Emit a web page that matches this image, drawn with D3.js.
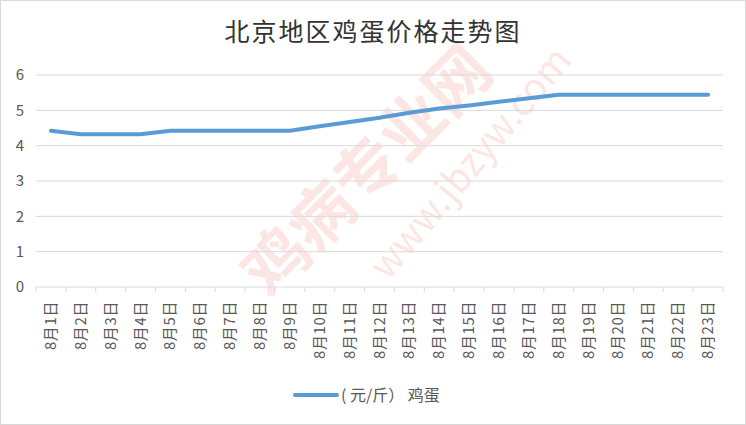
<!DOCTYPE html>
<html lang="zh">
<head>
<meta charset="UTF-8">
<title>北京地区鸡蛋价格走势图</title>
<script src="https://cdn.jsdelivr.net/npm/d3@7"></script>
<style>
  body { margin: 0; background: #fff; }
  svg { display: block; font-family: "Noto Sans CJK SC", "Noto Sans", sans-serif; }
</style>
</head>
<body>
<svg id="chart" width="746" height="425"></svg>
<script>
// data
const days = ["8月1日", "8月2日", "8月3日", "8月4日", "8月5日", "8月6日", "8月7日", "8月8日",
  "8月9日", "8月10日", "8月11日", "8月12日", "8月13日", "8月14日", "8月15日", "8月16日",
  "8月17日", "8月18日", "8月19日", "8月20日", "8月21日", "8月22日", "8月23日"];
const eggPrice = [4.42, 4.32, 4.32, 4.32, 4.42, 4.42, 4.42, 4.42, 4.42, 4.55, 4.67, 4.79,
  4.93, 5.05, 5.14, 5.24, 5.34, 5.44, 5.44, 5.44, 5.44, 5.44, 5.44];
const yTicks = [0, 1, 2, 3, 4, 5, 6];
const seriesName = "( 元/斤） 鸡蛋";
const title = "北京地区鸡蛋价格走势图";

const W = 746, H = 425;
const m = { left: 36, right: 23, top: 75, bottom: 138 };
const svg = d3.select("#chart");

// outer frame
svg.append("rect").attr("x", 0.5).attr("y", 0.5).attr("width", W - 1).attr("height", H - 1)
  .attr("fill", "#fff").attr("stroke", "#d9d9d9");

// faint watermark
const wm = svg.append("g").attr("pointer-events", "none");
wm.append("text").attr("transform", "translate(270,300) rotate(-45)")
  .attr("font-size", 64).attr("font-weight", "bold").attr("fill", "#f06a60").attr("opacity", 0.16)
  .text("鸡病专业网");
wm.append("text").attr("transform", "translate(388,282) rotate(-50)")
  .attr("font-size", 38).attr("fill", "#f06a60").attr("opacity", 0.16)
  .text("www.jbzyw.com");

const x = d3.scaleBand().domain(days).range([m.left, W - m.right]);
const y = d3.scaleLinear().domain([0, 6]).range([H - m.bottom, m.top]);

// gridlines
svg.append("g").selectAll("line").data(yTicks.filter(d => d > 0)).join("line")
  .attr("x1", m.left).attr("x2", W - m.right)
  .attr("y1", d => y(d)).attr("y2", d => y(d))
  .attr("stroke", "#d9d9d9").attr("stroke-width", 1);

// y axis labels
svg.append("g").selectAll("text").data(yTicks).join("text")
  .attr("x", 20).attr("y", d => y(d)).attr("dy", "0.36em")
  .attr("text-anchor", "middle").attr("font-size", 15).attr("fill", "#595959")
  .text(d => d);

// x axis
const xAxis = svg.append("g").attr("transform", `translate(0,${y(0)})`);
xAxis.append("line").attr("x1", m.left).attr("x2", W - m.right)
  .attr("stroke", "#d9d9d9");
const edges = days.map(d => x(d)).concat([x.range()[1]]);
xAxis.selectAll("line.tick").data(edges).join("line").attr("class", "tick")
  .attr("x1", d => d).attr("x2", d => d).attr("y1", 0).attr("y2", 5)
  .attr("stroke", "#d9d9d9");
xAxis.selectAll("text").data(days).join("text")
  .attr("transform", d => `translate(${x(d) + x.bandwidth() / 2 + 5},14) rotate(-90)`)
  .attr("text-anchor", "end").attr("font-size", 15).attr("letter-spacing", 0.6)
  .attr("fill", "#595959")
  .text(d => d);

// line
const line = d3.line()
  .x((d, i) => x(days[i]) + x.bandwidth() / 2)
  .y(d => y(d));
svg.append("path").datum(eggPrice)
  .attr("d", line).attr("fill", "none")
  .attr("stroke", "#5b9bd5").attr("stroke-width", 4)
  .attr("stroke-linecap", "round").attr("stroke-linejoin", "round");

// title
svg.append("text").attr("x", 373).attr("y", 41).attr("text-anchor", "middle")
  .attr("font-size", 25).attr("fill", "#333")
  .attr("letter-spacing", 2)
  .text(title);

// legend
const lg = svg.append("g").attr("transform", "translate(295,395)");
lg.append("line").attr("x1", 0).attr("x2", 42)
  .attr("stroke", "#5b9bd5").attr("stroke-width", 4).attr("stroke-linecap", "round");
lg.append("text").attr("x", 46).attr("dy", "0.36em")
  .attr("font-size", 16).attr("fill", "#595959").text(seriesName);
</script>
</body>
</html>
